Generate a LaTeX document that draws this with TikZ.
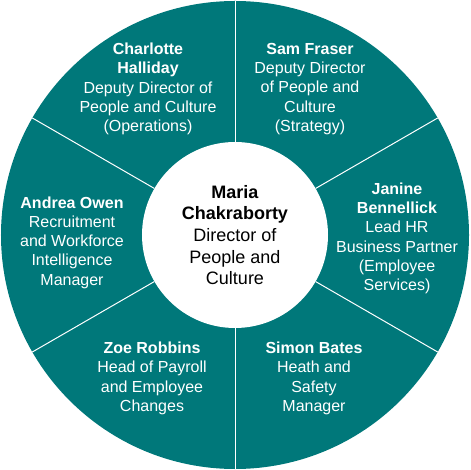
\documentclass[tikz,border=0pt]{standalone}
\usepackage{fontspec}
\setmainfont{Liberation Sans}
\usetikzlibrary{positioning}
\definecolor{petrol}{RGB}{0,120,122}
\tikzset{
  ring/.style={fill=petrol},
  spoke/.style={draw=white, line width=1pt},
  hub/.style={circle, fill=white, minimum size=186pt, inner sep=0pt, align=center, font=\fontsize{18}{21.6}\selectfont},
  role/.style={text=white, align=center, font=\fontsize{16}{19.3}\selectfont},
}
\begin{document}
\begin{tikzpicture}[x=1pt,y=1pt]
  \useasboundingbox (-235,-235) rectangle (235,235);
  \fill[ring] (0,0) circle (234);
  \node[hub] (hub) at (0,0) {\textbf{Maria}\\\textbf{Chakraborty}\\Director of\\People and\\Culture};
  \foreach \a in {30,90,...,330} { \draw[spoke] (hub.\a) -- (\a:234); }
  \node[role] (charlotte) at (-87,146) {\textbf{Charlotte}\\\textbf{Halliday}\\Deputy Director of\\People and Culture\\(Operations)};
  \node[role] (sam) at (75,146) {\textbf{Sam Fraser}\\Deputy Director\\of People and\\Culture\\(Strategy)};
  \node[role] (janine) at (162,-3.5) {\textbf{Janine}\\\textbf{Bennellick}\\Lead HR\\Business Partner\\(Employee\\Services)};
  \node[role] (andrea) at (-163,-7.5) {\textbf{Andrea Owen}\\Recruitment\\and Workforce\\Intelligence\\Manager};
  \node[role] (zoe) at (-83,-143.5) {\textbf{Zoe Robbins}\\Head of Payroll\\and Employee\\Changes};
  \node[role] (simon) at (79,-143.5) {\textbf{Simon Bates}\\Heath and\\Safety\\Manager};
\end{tikzpicture}
\end{document}
